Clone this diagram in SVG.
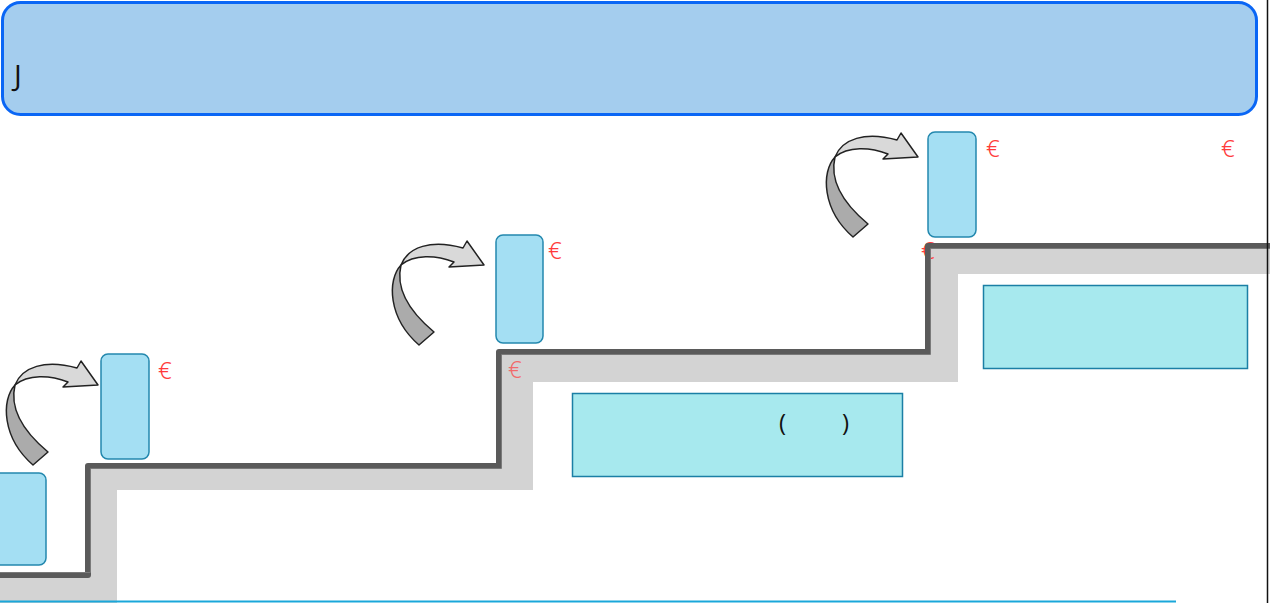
<svg xmlns="http://www.w3.org/2000/svg" width="1270" height="603" viewBox="0 0 1270 603">
<style>
.small{fill:#a4dff3;stroke:#2388ae;stroke-width:1.5}
.big{fill:#a7e9ee;stroke:#1b7fa5;stroke-width:1.5}
.eur{fill:#ff3b3b;font-family:"Noto Sans","DejaVu Sans",sans-serif;font-size:24px;font-weight:300}
.txt{fill:#111;font-family:"Open Sans","Liberation Sans",sans-serif}
</style>
<defs>
<g id="curveArrow" stroke="#222" stroke-width="1.5" stroke-linejoin="round">
<path d="M15,385 C1,400 2,438 33,465 L48,452 C24,432 9,410 15,385 Z" fill="#ababab"/>
<path d="M15,385 C22,367 45,359 77,368 L81,361 L98,385 L63,387 L68,382 C50,375 28,374 15,385 Z" fill="#d9d9d9"/>
</g>
</defs>
<rect width="1270" height="603" fill="#fff"/>
<g id="header">
<rect x="2.5" y="2.5" width="1254" height="112" rx="18" fill="#a4cdee" stroke="#0a66f5" stroke-width="3"/>
<text class="txt" x="14" y="86" font-size="29">J</text>
</g>
<g id="stairs">
<polygon points="0,575 88,575 88,466 499,466 499,352 928,352 928,246 1270,246 1270,274 958,274 958,382 533,382 533,490 117,490 117,603 0,603" fill="#d3d3d3"/>
<text class="eur" x="508" y="378" font-size="22" fill-opacity="0.7">€</text>
<text class="eur" x="921" y="259" font-size="22">€</text>
<polyline points="0,575 88,575 88,466 499,466 499,352 928,352 928,246 1270,246" fill="none" stroke="#5a5a5a" stroke-width="6" stroke-linejoin="round"/>
<polyline points="0,572.5 90.5,572.5 90.5,468.5 501.5,468.5 501.5,354.5 930.5,354.5 930.5,248.5 1270,248.5" fill="none" stroke="#7a7a7a" stroke-width="1"/>
</g>
<g id="connectors">
<use href="#curveArrow"/>
<use href="#curveArrow" transform="translate(386,-120)"/>
<use href="#curveArrow" transform="translate(820,-228)"/>
</g>
<g id="box1"><rect class="small" x="-6" y="473" width="52" height="92" rx="7"/></g>
<g id="box2"><rect class="small" x="101" y="354" width="48" height="105" rx="7"/><text class="eur" x="158" y="379">€</text></g>
<g id="box3"><rect class="small" x="496" y="235" width="47" height="108" rx="7"/><text class="eur" x="548" y="259">€</text></g>
<g id="box4"><rect class="small" x="928" y="132" width="48" height="105" rx="7"/><text class="eur" x="986" y="157">€</text><text class="eur" x="1221" y="157">€</text></g>
<g id="panelA"><rect class="big" x="572.5" y="393.5" width="330" height="83"/>
<text class="txt" x="779" y="431" font-size="24">(</text><text class="txt" x="842" y="431" font-size="24">)</text></g>
<g id="panelB"><rect class="big" x="983.5" y="285.5" width="264" height="83"/></g>
<line x1="0" y1="601.5" x2="1176" y2="601.5" stroke="#1aa7da" stroke-width="2"/>
<line x1="1267.5" y1="0" x2="1267.5" y2="603" stroke="#111" stroke-width="1.5"/>
</svg>
